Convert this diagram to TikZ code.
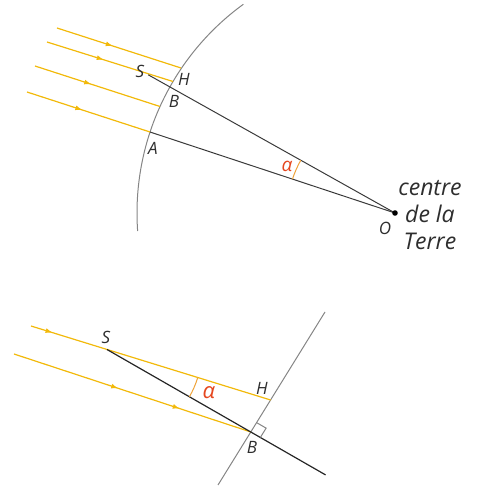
\documentclass[tikz,border=0pt]{standalone}
\usepackage{fontspec}
\setmainfont{Open Sans}
\usepackage{tikz}
\usetikzlibrary{arrows.meta,calc,angles,decorations.markings}
\definecolor{sunyellow}{HTML}{F2B90A}
\definecolor{earthgray}{HTML}{858585}
\definecolor{radial}{HTML}{3A3A3A}
\definecolor{alphared}{HTML}{E5471F}
\definecolor{anglemark}{HTML}{EFA33A}
\definecolor{labelgray}{HTML}{2E2E2E}

\begin{document}
\begin{tikzpicture}[x=1pt,y=1pt,
  sunray/.style={color=sunyellow,line width=1.2pt},
  ray/.style={sunray,postaction={decorate,decoration={markings,
      mark=at position #1 with {\arrow{Latex[length=7pt,width=5pt]}}}}},
  earth/.style={draw=earthgray,line width=1pt},
  radius line/.style={draw=radial,line width=1pt},
  lbl/.style={font=\itshape\fontsize{17}{19}\selectfont,text=labelgray,inner sep=0pt},
  alph/.style={font=\itshape\fontsize{#1}{#1}\selectfont,text=alphared,inner sep=0pt},
  amark/.style={draw=anglemark,line width=1pt}]
\useasboundingbox (0,0) rectangle (483,488);
% Terre, vue en coupe
\coordinate (O) at (395,275);
\coordinate (A) at (150,356);
\coordinate (B) at (170,401);
\coordinate (H) at (173,406.5);
\coordinate (S) at ($(B)!-25pt!(O)$);
\coordinate (arctop) at ($(O)+(126:258)$);
\coordinate (r1) at (57,460);
\coordinate (r2) at (47,446);
\coordinate (r3) at (35,422);
\coordinate (r4) at (27,396);
\coordinate (e1) at (181,420);
\coordinate (e3) at (160,381.5);
\draw[earth] (arctop) arc[start angle=126,end angle=184,radius=258];
\draw[ray=0.45] (r1) -- (e1);
\draw[ray=0.45] (r2) -- (H);
\draw[ray=0.45] (r3) -- (e3);
\draw[ray=0.45] (r4) -- (A);
\draw[radius line] (S) -- (B) -- (O);
\draw[radius line] (A) -- (O);
\pic[amark,angle radius=108pt] {angle=B--O--A};
\fill[black] (O) circle (2.8);
\node[lbl] (labS) at (140,417) {S};
\node[lbl] (labH) at (184,409) {H};
\node[lbl] (labB) at (174,387) {B};
\node[lbl] (labA) at (153,340) {A};
\node[lbl] (labO) at (385,260) {O};
\node[alph=19] (alpha1) at (287,322) {α};
\node[font=\itshape\fontsize{23}{27}\selectfont,text=labelgray,align=center] (terre) at (430,273) {centre\\de la\\Terre};
% zoom sur le gnomon
\coordinate (G1) at (218,3);
\coordinate (G2) at (325,176);
\coordinate (Bb) at (250.8,56);
\coordinate (Hb) at (270.6,88);
\coordinate (Sb) at (107,138.5);
\coordinate (r5) at (31,162);
\coordinate (r6) at (14,134);
\coordinate (Eb) at ($(Sb)!1.52!(Bb)$);
\draw[earth] (G1) -- (G2);
\draw[ray=0.09] (r5) -- (Hb);
\draw[ray=0.44,ray=0.70] (r6) -- (Bb);
\draw[radius line,draw=black!85,line width=1.2pt] (Sb) -- (Eb);
\coordinate (q1) at ($(Bb)!11pt!(Hb)$);
\coordinate (q2) at ($(Bb)!11pt!(Eb)$);
\draw[earth] (q1) -- ($(q1)+(q2)-(Bb)$) -- (q2);
\pic[amark,angle radius=95pt] {angle=Bb--Sb--Hb};
\node[lbl] (labSb) at (106,151) {S};
\node[lbl] (labHb) at (262,100) {H};
\node[lbl] (labBb) at (252,41) {B};
\node[alph=22] (alpha2) at (209,95) {α};
\end{tikzpicture}
\end{document}
